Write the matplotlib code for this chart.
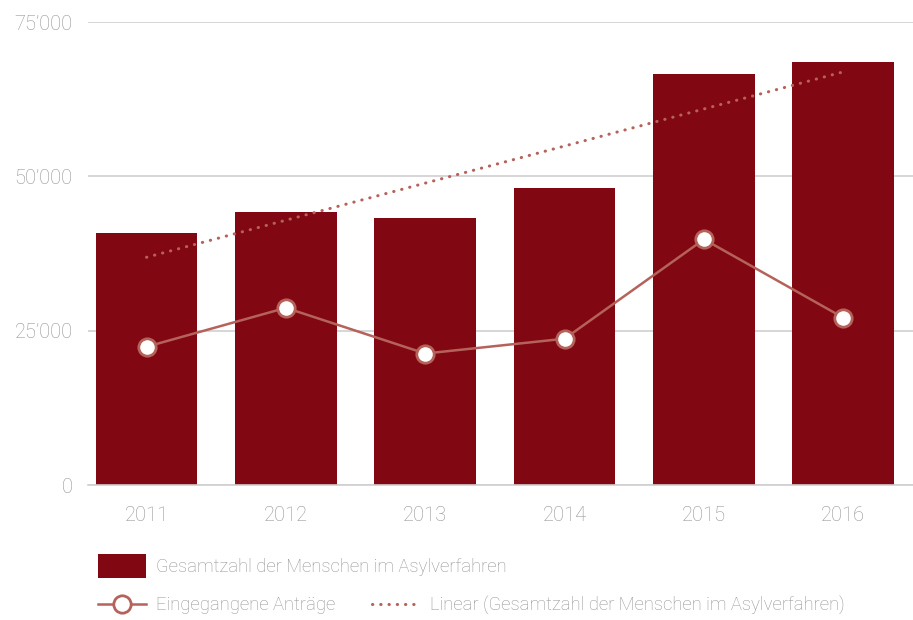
import numpy as np
import matplotlib

matplotlib.use("Agg")
from matplotlib import pyplot as plt
from matplotlib.ticker import FuncFormatter

years = ["2011", "2012", "2013", "2014", "2015", "2016"]
total_in_procedure = [40800, 44300, 43200, 48050, 66600, 68500]
applications = [22400, 28700, 21300, 23700, 39800, 27100]
y_ticks = [0, 25000, 50000, 75000]

BAR_COLOR = "#810712"
LINE_COLOR = "#b5625a"
TEXT_COLOR = "#939393"
GRID_COLOR = "#cfcfcf"

plt.rcParams["font.family"] = ["Roboto", "DejaVu Sans"]
plt.rcParams["font.weight"] = "light"

fig = plt.figure(figsize=(9.13, 6.2), dpi=100)
ax = fig.add_axes([0.0964, 0.2177, 0.9036, 0.7468])

x = np.arange(len(years))
bars = ax.bar(x, total_in_procedure, width=0.73, color=BAR_COLOR, zorder=2)

line, = ax.plot(
    x, applications, color=LINE_COLOR, linewidth=1.8, marker="o", markersize=12.5,
    markerfacecolor="white", markeredgecolor=LINE_COLOR, markeredgewidth=2, zorder=4,
)

# linear trend of the bar series
slope, intercept = np.polyfit(x, total_in_procedure, 1)
trend, = ax.plot(
    x, slope * x + intercept, color=LINE_COLOR, linewidth=2.2,
    linestyle=(0, (0.1, 2.6)), dash_capstyle="round", zorder=3,
)

ax.set_xlim(-0.42, 5.5)
ax.set_ylim(0, 75000)
ax.set_yticks(y_ticks)
ax.yaxis.set_major_formatter(
    FuncFormatter(lambda v, _: "0" if v == 0 else f"{int(v):,}".replace(",", "\u2019"))
)
ax.set_xticks(x, years)
ax.tick_params(axis="both", length=0, colors=TEXT_COLOR, labelsize=14.5)
ax.tick_params(axis="x", pad=15)
ax.tick_params(axis="y", pad=11)
ax.grid(axis="y", color=GRID_COLOR, linewidth=1.2, zorder=0)
for side in ("top", "right", "left"):
    ax.spines[side].set_visible(False)
ax.spines["bottom"].set_color(GRID_COLOR)
ax.spines["bottom"].set_linewidth(1.2)

legend_style = dict(
    frameon=False, fontsize=13.3, labelcolor=TEXT_COLOR, handlelength=2.6,
    handletextpad=0.55, borderaxespad=0, borderpad=0,
)
fig.legend([bars], ["Gesamtzahl der Menschen im Asylverfahren"],
           loc="center left", bbox_to_anchor=(98 / 913, 1 - 566 / 620),
           handleheight=1.6, **legend_style)
fig.legend([line], ["Eingegangene Anträge"],
           loc="center left", bbox_to_anchor=(98 / 913, 1 - 605 / 620), **legend_style)
fig.legend([trend], ["Linear (Gesamtzahl der Menschen im Asylverfahren)"],
           loc="center left", bbox_to_anchor=(372 / 913, 1 - 605 / 620), **legend_style)

fig.savefig("out.png", dpi=100)
